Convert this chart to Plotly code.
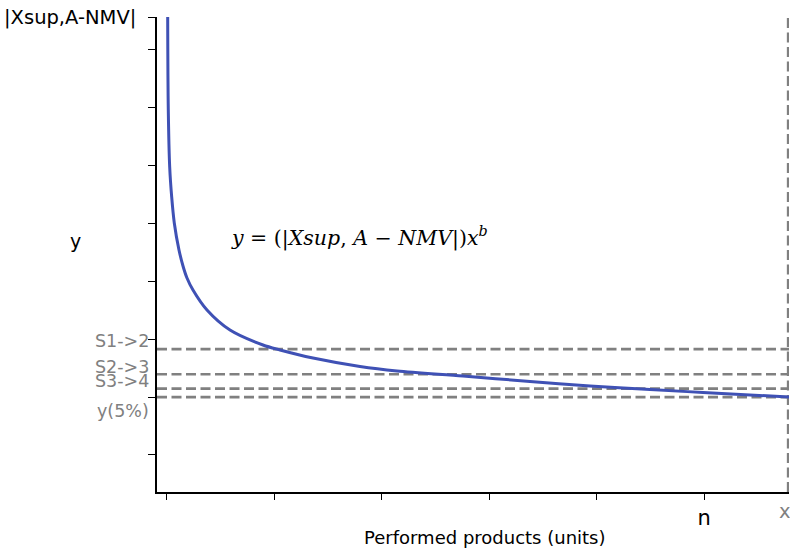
import plotly.graph_objects as go

# Curve values
curve_x = [0.065, 0.121, 0.251, 0.438, 0.680, 1.117, 1.490, 1.862, 2.421, 3.724, 5.866,
           8.939, 10.521, 13.594, 17.970, 21.415, 27.561, 33.799, 39.385, 44.972, 49.907, 57.914]
curve_y = [7.57, 5.963, 4.978, 4.459, 4.010, 3.543, 3.267, 3.059, 2.852, 2.506, 2.160,
           1.901, 1.815, 1.676, 1.530, 1.452, 1.365, 1.270, 1.193, 1.132, 1.080, 1.002]

# Threshold levels (dashed)
level_names = ["S1->2", "S2->3", "S3->4", "y(5%)"]
level_values = [1.829, 1.395, 1.146, 1.0]

x_min, x_max = -0.93, 57.91
y_min, y_max = -0.64, 7.57

x_ticks = [0, 10, 20, 30, 40, 50]
x_ticktext = ["", "", "", "", "", "n"]
y_ticks = [0, 1, 2, 3, 4, 5, 6, 7, 7.57]
y_ticktext = ["", "", "", "", "", "", "", "", "|Xsup,A-NMV|"]

GRAY = "#808080"
FONT = "DejaVu Sans"

fig = go.Figure()

for v in level_values:
    fig.add_trace(go.Scatter(x=[x_min, x_max], y=[v, v], mode="lines",
                             line=dict(color=GRAY, width=2.6, dash="10px,4.5px"),
                             hoverinfo="skip", showlegend=False))
fig.add_trace(go.Scatter(x=[x_max - 0.08, x_max - 0.08], y=[y_min, y_max], mode="lines",
                         line=dict(color=GRAY, width=2.6, dash="10px,4.5px"),
                         hoverinfo="skip", showlegend=False))

fig.add_trace(go.Scatter(x=curve_x, y=curve_y, mode="lines",
                         line=dict(color="#3F51B5", width=3, shape="spline", smoothing=0.9),
                         showlegend=False))

W, H = 790, 549
L, R, T, B = 157, 1, 17, 57
pw, ph = W - L - R, H - T - B


def px(xp):
    return (xp - L) / pw


def py(yp):
    return (H - B - yp) / ph


annotations = []
label_y_pix = [341, 367, 381, 411]
for name, yp in zip(level_names, label_y_pix):
    annotations.append(dict(x=px(151), y=py(yp), xref="paper", yref="paper", text=name,
                            showarrow=False, xanchor="right", yanchor="middle",
                            font=dict(family=FONT, size=17.5, color=GRAY)))
annotations.append(dict(x=px(75), y=py(241), xref="paper", yref="paper", text="y",
                        showarrow=False, xanchor="center", yanchor="middle",
                        font=dict(family=FONT, size=19, color="black")))
annotations.append(dict(x=px(785), y=py(511), xref="paper", yref="paper", text="x",
                        showarrow=False, xanchor="center", yanchor="middle",
                        font=dict(family=FONT, size=19.5, color=GRAY)))
annotations.append(dict(x=px(485), y=py(537), xref="paper", yref="paper",
                        text="Performed products (units)",
                        showarrow=False, xanchor="center", yanchor="middle",
                        font=dict(family=FONT, size=18, color="black")))
annotations.append(dict(x=px(359), y=py(237), xref="paper", yref="paper",
                        text="<i>y</i> = (|<i>Xsup</i>, <i>A</i> − <i>NMV</i>|)<i>x</i><sup><i>b</i></sup>",
                        showarrow=False, xanchor="center", yanchor="middle",
                        font=dict(family="DejaVu Serif", size=20.5, color="black")))

fig.update_layout(
    width=W, height=H,
    margin=dict(l=L, r=R, t=T, b=B, pad=0),
    paper_bgcolor="white", plot_bgcolor="white",
    showlegend=False,
    annotations=annotations,
    xaxis=dict(range=[x_min, x_max], showgrid=False, zeroline=False,
               showline=True, linecolor="black", linewidth=1.5,
               ticks="outside", ticklen=6, tickwidth=1.2, tickcolor="black",
               tickvals=x_ticks, ticktext=x_ticktext,
               tickfont=dict(family=FONT, size=21, color="black"),
               automargin=False, fixedrange=True),
    yaxis=dict(range=[y_min, y_max], showgrid=False, zeroline=False,
               showline=True, linecolor="black", linewidth=1.5,
               ticks="outside", ticklen=7, tickwidth=1.2, tickcolor="black",
               tickvals=y_ticks, ticktext=y_ticktext,
               tickfont=dict(family=FONT, size=19.5, color="black"),
               ticklabelstandoff=8,
               automargin=False, fixedrange=True),
)

fig.write_html("out.html", config={"displayModeBar": False},
               post_script="document.body.style.margin='0';")
